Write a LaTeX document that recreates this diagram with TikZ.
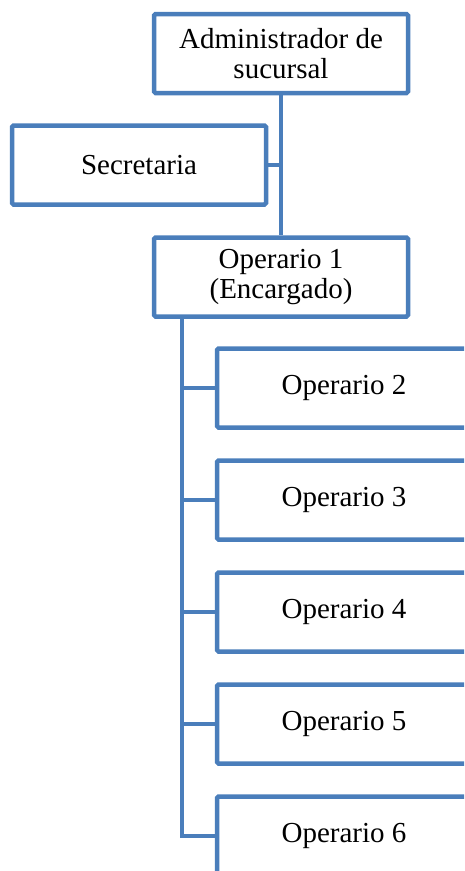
\documentclass[tikz,border=0pt]{standalone}
\usepackage{fontspec}
\setmainfont{Liberation Serif}
\definecolor{boxblue}{RGB}{74,126,187}
\begin{document}
\begin{tikzpicture}[x=1pt,y=-1pt,
  orgbox/.style={draw=boxblue,line width=4.5pt,fill=white,rounded corners=1.5pt,
    minimum width=254pt,minimum height=79pt,inner sep=0pt,align=center,
    font=\fontsize{29}{30.5}\selectfont},
  link/.style={draw=boxblue,line width=4.5pt}]
\useasboundingbox (0,0) rectangle (464,871);
\clip (0,0) rectangle (464,871);
\node[orgbox] (adm) at (281,53.5) {Administrador de\\sucursal};
\node[orgbox] (sec) at (139,165) {Secretaria};
\node[orgbox] (op1) at (281,277) {Operario 1\\(Encargado)};
\node[orgbox] (op2) at (344,388) {Operario 2};
\node[orgbox] (op3) at (344,500) {Operario 3};
\node[orgbox] (op4) at (344,612) {Operario 4};
\node[orgbox] (op5) at (344,724) {Operario 5};
\node[orgbox] (op6) at (344,836) {Operario 6};
\coordinate (trunk) at (182,317);
\begin{scope}[on background layer/.try]
\path[link] (adm.south) -- (op1.north);
\path[link] (sec.east) -- (sec.east -| adm.south);
\path[link] (trunk) |- (op6.west);
\path[link] (trunk |- op2.west) -- (op2.west);
\path[link] (trunk |- op3.west) -- (op3.west);
\path[link] (trunk |- op4.west) -- (op4.west);
\path[link] (trunk |- op5.west) -- (op5.west);
\end{scope}
\end{tikzpicture}
\end{document}
